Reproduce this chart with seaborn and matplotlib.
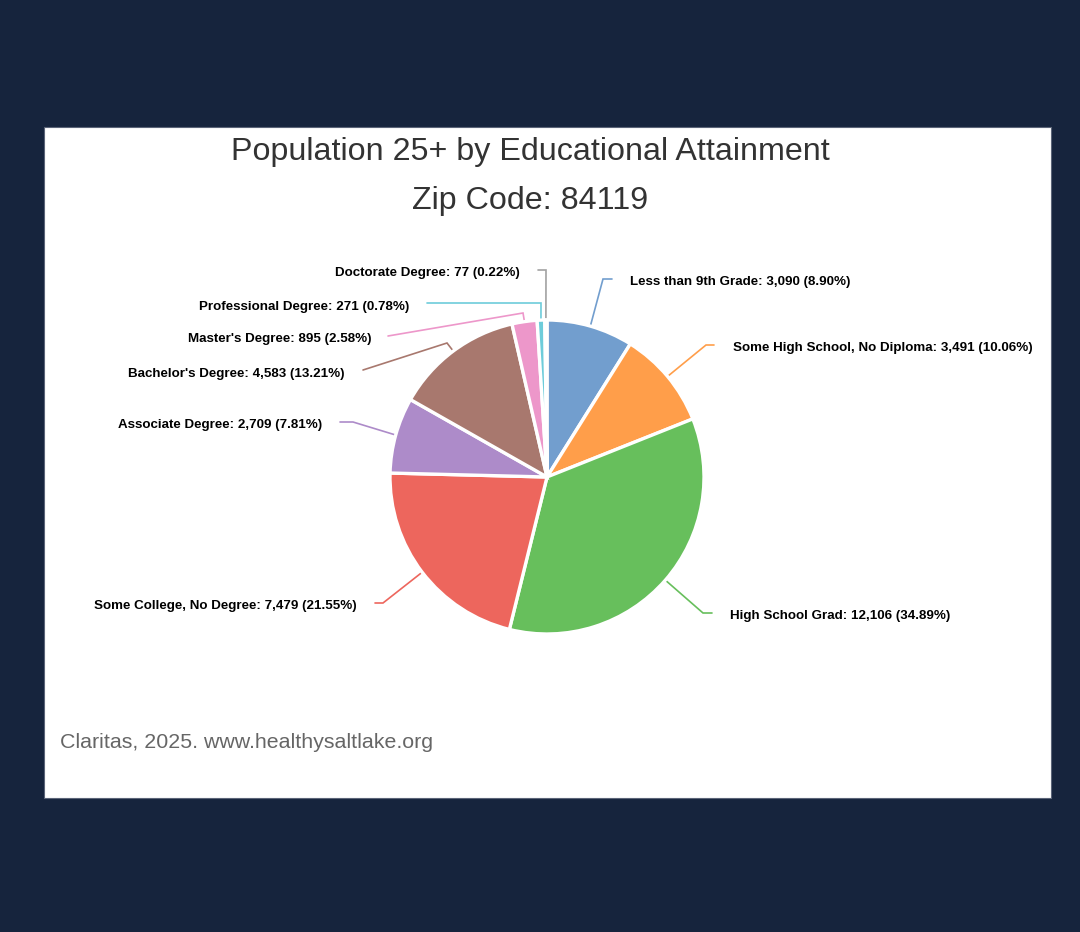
import numpy as np
import matplotlib
matplotlib.use("Agg")
import matplotlib.pyplot as plt
import seaborn as sns
from matplotlib.patches import Rectangle

categories = ["Less than 9th Grade", "Some High School, No Diploma", "High School Grad",
              "Some College, No Degree", "Associate Degree", "Bachelor's Degree",
              "Master's Degree", "Professional Degree", "Doctorate Degree"]
values = [3090, 3491, 12106, 7479, 2709, 4583, 895, 271, 77]
colors = ["#729ECE", "#FF9E4A", "#67BF5C", "#ED665D", "#AD8BC9", "#A8786E",
          "#ED97CA", "#6DCCDA", "#A2A2A2"]
title_lines = ["Population 25+ by Educational Attainment", "Zip Code: 84119"]
credit = "Claritas, 2025. www.healthysaltlake.org"

sns.set_theme(style="white")
plt.rcParams['font.family'] = ['Liberation Sans', 'DejaVu Sans']

W, H = 1080, 932
fig = plt.figure(figsize=(W / 100, H / 100), dpi=100)
fig.patch.set_facecolor("#16243d")

# white panel
bg = fig.add_axes([0, 0, 1, 1], zorder=-5)
bg.set_xlim(0, W)
bg.set_ylim(H, 0)
bg.axis("off")
bg.add_patch(Rectangle((44, 127), 1051 - 44, 798 - 127, facecolor="white",
                       edgecolor="#5b6478", linewidth=0.8))

# pie geometry (layout)
cx, cy, R = 547, 477, 157
ax = fig.add_axes([0, 0, 1, 1], zorder=1)
ax.patch.set_alpha(0)

def P(px, py):
    return ((px - cx) / R, (cy - py) / R)

wedges, _ = ax.pie(values, colors=colors, startangle=90, counterclock=False,
                   radius=1.0, center=(0, 0), frame=True,
                   wedgeprops=dict(edgecolor="white", linewidth=2.4))
ax.set_xlim(-cx / R, (W - cx) / R)
ax.set_ylim(-(H - cy) / R, cy / R)
ax.set_aspect("auto")
ax.axis("off")

total = sum(values)
# label layout: (text anchor px, side, connector end px, elbow px)
layout = [
    ((630, 282), "left", (612, 279), (603, 279)),
    ((733, 348), "left", (714, 345), (706, 345)),
    ((730, 616), "left", (712, 613), (703, 613)),
    ((357, 606), "right", (375, 603), (383, 603)),
    ((322, 425), "right", (340, 422), (353, 422)),
    ((345, 374), "right", (363, 370), (447, 343)),
    ((372, 339), "right", (388, 336), (523, 313)),
    ((409, 307), "right", (427, 303), (541, 303)),
    ((520, 273), "right", (538, 270), (546, 270)),
]

for w, cat, v, col, (tpos, ha, endp, elb) in zip(wedges, categories, values, colors, layout):
    theta = np.deg2rad((w.theta1 + w.theta2) / 2)
    edge = (np.cos(theta) * 1.0, np.sin(theta) * 1.0)
    e = P(*elb)
    en = P(*endp)
    ax.plot([edge[0], e[0], en[0]], [edge[1], e[1], en[1]], color=col, lw=1.2,
            solid_joinstyle="miter", zorder=0)
    pct = v / total * 100
    tx, ty = P(*tpos)
    ax.text(tx, ty, f"{cat}: {v:,} ({pct:.2f}%)", ha=ha, va="center",
            fontsize=9.6, fontweight="bold", color="#000000")

fig.text(530 / W, 1 - 152 / H, title_lines[0], ha="center", va="center",
         fontsize=23.2, color="#333333")
fig.text(530 / W, 1 - 201 / H, title_lines[1], ha="center", va="center",
         fontsize=23.2, color="#333333")
fig.text(60 / W, 1 - 742 / H, credit, ha="left", va="center",
         fontsize=15.4, color="#666666")

fig.savefig("out.png", dpi=100, facecolor=fig.get_facecolor())
